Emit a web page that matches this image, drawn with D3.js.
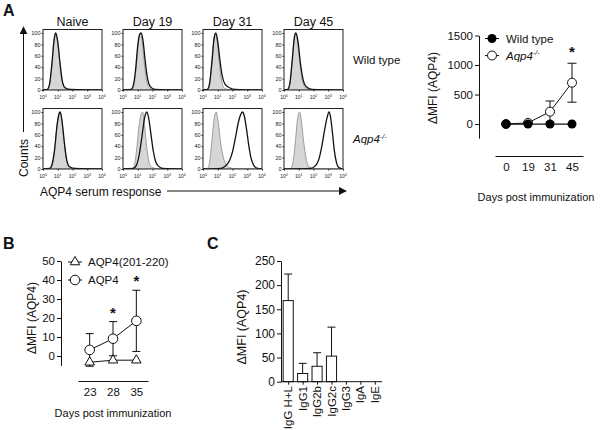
<!DOCTYPE html>
<html><head><meta charset="utf-8">
<script src="https://cdn.jsdelivr.net/npm/d3@7"></script>
<style>body{margin:0;background:#fff}svg{font-family:Arial,"Liberation Sans",sans-serif}</style>
</head><body><svg id="c" width="602" height="430"></svg>
<script>
// ---------------- DATA ----------------
// Panel A histograms: [log10 intensity, % of max]
const histColumns = ["Naive", "Day 19", "Day 31", "Day 45"];
const histRowLabels = ["Wild type", "Aqp4"];
const histYTicks = [0, 20, 40, 60, 80, 100];
const histXExps = [0, 1, 2, 3, 4];
const wtControl = [
  [[0,0],[0.3,1],[0.45,10],[0.6,42],[0.75,85],[0.87,100],[1.0,82],[1.15,45],[1.3,15],[1.5,3],[1.8,0.5],[4,0]],
  [[0,0],[0.6,1],[0.75,10],[0.9,40],[1.05,85],[1.18,100],[1.3,85],[1.45,45],[1.6,15],[1.8,3],[2.1,0.5],[4,0]],
  [[0,0],[0.3,1],[0.45,12],[0.6,48],[0.75,90],[0.85,100],[0.98,80],[1.12,42],[1.28,14],[1.45,3],[1.8,0.5],[4,0]],
  [[0,0],[0.25,1],[0.4,12],[0.55,48],[0.7,90],[0.8,100],[0.93,82],[1.08,45],[1.25,15],[1.45,4],[1.8,0.5],[4,0]]
];
const wtSerum = [
  [[0,0],[0.3,1],[0.45,11],[0.6,45],[0.75,88],[0.85,100],[1.0,85],[1.15,48],[1.3,17],[1.5,4],[1.9,1],[4,0]],
  [[0,0],[0.55,1],[0.7,8],[0.85,35],[1.0,78],[1.12,97],[1.22,100],[1.35,88],[1.5,52],[1.65,22],[1.85,6],[2.2,1],[4,0]],
  [[0,0],[0.3,1],[0.45,12],[0.6,48],[0.75,90],[0.87,100],[1.0,85],[1.15,52],[1.3,25],[1.5,10],[1.8,4],[2.2,1],[4,0]],
  [[0,0],[0.25,1],[0.4,12],[0.55,50],[0.7,92],[0.8,100],[0.95,85],[1.1,50],[1.28,20],[1.5,6],[1.9,1],[4,0]]
];
const koControl = [
  [[0,0],[0.5,1],[0.65,8],[0.8,35],[0.95,75],[1.08,97],[1.15,100],[1.28,85],[1.42,50],[1.58,18],[1.78,4],[2.1,0.5],[4,0]],
  [[0,0],[0.65,1],[0.8,10],[0.95,40],[1.1,78],[1.25,98],[1.33,100],[1.45,78],[1.6,40],[1.75,14],[1.95,3],[2.3,0.5],[4,0]],
  [[0,0],[0.3,1],[0.45,12],[0.6,48],[0.78,92],[0.9,100],[1.03,82],[1.2,45],[1.4,18],[1.6,7],[1.85,2],[2.2,0.5],[4,0]],
  [[0,0],[0.45,1],[0.6,10],[0.75,42],[0.92,88],[1.05,100],[1.18,84],[1.33,48],[1.5,18],[1.7,4],[2.0,0.5],[4,0]]
];
const koSerum = [
  [[0,0],[0.45,1],[0.6,7],[0.78,33],[0.95,76],[1.1,98],[1.17,100],[1.3,82],[1.45,46],[1.6,17],[1.8,4],[2.2,1],[4,0]],
  [[0,0],[0.7,1],[0.9,6],[1.1,25],[1.3,60],[1.45,88],[1.55,98],[1.62,100],[1.75,88],[1.9,60],[2.05,32],[2.2,14],[2.4,5],[2.7,1],[4,0]],
  [[0,0],[1.2,1],[1.5,5],[1.8,15],[2.0,30],[2.2,55],[2.4,82],[2.55,95],[2.68,100],[2.8,93],[2.95,70],[3.1,42],[3.25,20],[3.45,6],[3.7,1],[4,0]],
  [[0,0],[1.8,1],[2.1,5],[2.35,16],[2.55,38],[2.75,68],[2.92,90],[3.05,100],[3.15,92],[3.28,65],[3.4,35],[3.55,12],[3.7,3],[4,0]]
];

// Panel A right: ΔMFI over time
const aDays = ["0", "19", "31", "45"];
const aWT = [0, 0, 0, 0];
const aKO = [0, 20, 210, 700];
const aKOErr = [5, 15, 180, 330];
const aYTicks = [0, 500, 1000, 1500];
const aSig = ["", "", "", "*"];

// Panel B
const bDays = ["23", "28", "35"];
const bPeptide = [-3.3, -2.2, -2.2];
const bAQP4 = [3.2, 9.1, 18.5];
const bAQP4Err = [8.6, 9, 16.1];
const bYTicks = [0, 10, 20, 30, 40, 50];
const bSig = ["", "*", "*"];

// Panel C
const cIsotypes = ["IgG H+L", "IgG1", "IgG2b", "IgG2c", "IgG3", "IgA", "IgE"];
const cMean = [168, 17, 32, 53, 0, 0, 0];
const cErr = [55, 21, 28, 60, 0, 0, 0];
const cYTicks = [0, 50, 100, 150, 200, 250];

// ---------------- DRAW ----------------
const svg = d3.select("#c");
const txt = (x, y, s, size, opts = {}) => {
  const t = svg.append("text").attr("x", x).attr("y", y).attr("font-size", size)
    .attr("fill", "#111").text(s);
  if (opts.anchor) t.attr("text-anchor", opts.anchor);
  if (opts.bold) t.attr("font-weight", "bold");
  if (opts.italic) t.attr("font-style", "italic");
  return t;
};
const koLabel = (sel, size) => {
  sel.append("tspan").attr("font-style", "italic").text("Aqp4");
  sel.append("tspan").attr("font-style", "italic").attr("font-size", size * 0.62)
    .attr("dy", -size * 0.38).text("-/-");
};

// Panel labels
txt(3, 16, "A", 16, {bold: true});
txt(3, 249, "B", 16, {bold: true});
txt(207, 249, "C", 16, {bold: true});

// ----- Panel A histograms -----
const histX = [43, 123, 203, 284];
const histTop = [29.5, 108.5];
const histW = 59, histH = 60.5;
const controls = [wtControl, koControl];
const sera = [wtSerum, koSerum];

histColumns.forEach((name, c) => {
  txt(histX[c] + histW / 2, 26, name, 12.5, {anchor: "middle"});
});

[0, 1].forEach(r => {
  histColumns.forEach((name, c) => {
    const x0 = histX[c], y0 = histTop[r];
    const xs = d3.scaleLog().domain([1, 1e4]).range([x0, x0 + histW]);
    const ys = d3.scaleLinear().domain([0, 100]).range([y0 + histH, y0 + 3.5]);
    const g = svg.append("g");
    const clipId = `clip${r}${c}`;
    g.append("clipPath").attr("id", clipId).append("rect")
      .attr("x", x0).attr("y", y0).attr("width", histW).attr("height", histH);
    const area = d3.area().x(d => xs(Math.pow(10, d[0]))).y0(ys(0)).y1(d => ys(d[1]))
      .curve(d3.curveMonotoneX);
    const line = d3.line().x(d => xs(Math.pow(10, d[0]))).y(d => ys(d[1]))
      .curve(d3.curveMonotoneX);
    const inner = g.append("g").attr("clip-path", `url(#${clipId})`);
    inner.append("path").attr("d", area(controls[r][c])).attr("fill", "#d6d6d6")
      .attr("stroke", "#9b9b9b").attr("stroke-width", 1);
    inner.append("path").attr("d", line(sera[r][c])).attr("fill", "none")
      .attr("stroke", "#111").attr("stroke-width", 1.3);
    g.append("rect").attr("x", x0).attr("y", y0).attr("width", histW).attr("height", histH)
      .attr("fill", "none").attr("stroke", "#222").attr("stroke-width", 1);
    const ya = g.append("g").attr("transform", `translate(${x0},0)`)
      .call(d3.axisLeft(ys).tickValues(histYTicks).tickSize(1.5).tickPadding(1));
    ya.select(".domain").remove();
    ya.selectAll("text").attr("font-size", 5.5).attr("fill", "#222").attr("font-family", null);
    ya.selectAll("line").attr("stroke", "#222");
    const xa = g.append("g").attr("transform", `translate(0,${y0 + histH})`)
      .call(d3.axisBottom(xs).tickValues(histXExps.map(e => Math.pow(10, e))).tickSize(1.5).tickFormat(""));
    xa.select(".domain").remove();
    xa.selectAll("line").attr("stroke", "#222");
    histXExps.forEach(e => {
      const t = g.append("text").attr("x", xs(Math.pow(10, e))).attr("y", y0 + histH + 8.5)
        .attr("font-size", 5).attr("text-anchor", "middle").attr("fill", "#222");
      t.append("tspan").text("10");
      t.append("tspan").attr("font-size", 3.5).attr("dy", -2).text(e);
    });
  });
});
txt(353, 64, histRowLabels[0], 11.5);
koLabel(txt(353, 143, "", 11.5), 11.5);

// arrows
const defs = svg.append("defs");
defs.append("marker").attr("id", "arr").attr("viewBox", "0 0 10 10").attr("refX", 9).attr("refY", 5)
  .attr("markerWidth", 8).attr("markerHeight", 8).attr("markerUnits", "userSpaceOnUse")
  .attr("orient", "auto").append("path").attr("d", "M0,0L10,5L0,10Z").attr("fill", "#111");
svg.append("line").attr("x1", 23.5).attr("y1", 132).attr("x2", 23.5).attr("y2", 27)
  .attr("stroke", "#111").attr("stroke-width", 1).attr("marker-end", "url(#arr)");
svg.append("text").attr("transform", "translate(28,158) rotate(-90)").attr("text-anchor", "middle")
  .attr("font-size", 12).attr("fill", "#111").text("Counts");
txt(40, 196, "AQP4 serum response", 12);
svg.append("line").attr("x1", 167).attr("y1", 191).attr("x2", 346).attr("y2", 191)
  .attr("stroke", "#111").attr("stroke-width", 1).attr("marker-end", "url(#arr)");

// ----- helpers -----
function styleAxis(a, size) {
  a.selectAll("text").attr("font-size", size).attr("fill", "#111").attr("font-family", null);
  a.selectAll("line,path").attr("stroke", "#111").attr("stroke-width", 1);
}
function errBar(x, ys, v, e, cap, dirs) {
  const g = svg.append("g").attr("stroke", "#111").attr("stroke-width", 1);
  dirs.forEach(d => {
    const yEnd = ys(v + d * e);
    g.append("line").attr("x1", x).attr("x2", x).attr("y1", ys(v)).attr("y2", yEnd);
    g.append("line").attr("x1", x - cap / 2).attr("x2", x + cap / 2).attr("y1", yEnd).attr("y2", yEnd);
  });
}

// ----- Panel A right -----
{
  const ys = d3.scaleLinear().domain([-240, 1500]).range([138.2, 35.5]);
  const xs = d3.scalePoint().domain(aDays).range([495, 583]).padding(0.5);
  const ya = svg.append("g").attr("transform", "translate(479,0)")
    .call(d3.axisLeft(ys).tickValues(aYTicks).tickFormat(d3.format("d")).tickSize(4).tickPadding(2).tickSizeOuter(0));
  styleAxis(ya, 11.5);
  const xa = svg.append("g").attr("transform", "translate(0,156)")
    .call(d3.axisBottom(xs).tickSize(0).tickPadding(7).tickSizeOuter(0));
  styleAxis(xa, 11.5);
  svg.append("text").attr("transform", `translate(437,88) rotate(-90)`).attr("text-anchor", "middle")
    .attr("font-size", 12).attr("fill", "#111").text("ΔMFI (AQP4)");
  txt(536, 201, "Days post immunization", 11, {anchor: "middle"});
  aDays.forEach((d, i) => errBar(xs(d), ys, aKO[i], aKOErr[i], 9, [1, -1]));
  const line = d3.line().x((d, i) => xs(aDays[i])).y(d => ys(d));
  svg.append("path").attr("d", line(aKO)).attr("fill", "none").attr("stroke", "#111").attr("stroke-width", 1);
  svg.append("path").attr("d", line(aWT)).attr("fill", "none").attr("stroke", "#111").attr("stroke-width", 1.2);
  aKO.forEach((v, i) => svg.append("circle").attr("cx", xs(aDays[i])).attr("cy", ys(v)).attr("r", 4.5)
    .attr("fill", "#fff").attr("stroke", "#111").attr("stroke-width", 1));
  aWT.forEach((v, i) => svg.append("circle").attr("cx", xs(aDays[i])).attr("cy", ys(v)).attr("r", 4.5).attr("fill", "#000"));
  aSig.forEach((s, i) => { if (s) txt(xs(aDays[i]), 57, s, 15, {anchor: "middle", bold: true}); });
  // legend
  svg.append("line").attr("x1", 485).attr("x2", 499).attr("y1", 38.5).attr("y2", 38.5).attr("stroke", "#111");
  svg.append("circle").attr("cx", 492).attr("cy", 38.5).attr("r", 4.5).attr("fill", "#000");
  txt(506, 42.5, "Wild type", 11.5);
  svg.append("line").attr("x1", 485).attr("x2", 499).attr("y1", 55.5).attr("y2", 55.5).attr("stroke", "#111");
  svg.append("circle").attr("cx", 492).attr("cy", 55.5).attr("r", 4.5).attr("fill", "#fff").attr("stroke", "#111");
  koLabel(txt(506, 59.5, "", 11.5), 11.5);
}

// ----- Panel B -----
{
  const ys = d3.scaleLinear().domain([-5, 50]).range([365.5, 261]);
  const xs = d3.scalePoint().domain(bDays).range([78, 148]).padding(0.5);
  const ya = svg.append("g").attr("transform", "translate(61,0)")
    .call(d3.axisLeft(ys).tickValues(bYTicks).tickSize(4).tickPadding(2).tickSizeOuter(0));
  styleAxis(ya, 11.5);
  const xa = svg.append("g").attr("transform", "translate(0,381)")
    .call(d3.axisBottom(xs).tickSize(0).tickPadding(7).tickSizeOuter(0));
  styleAxis(xa, 11.5);
  svg.append("text").attr("transform", `translate(36,318) rotate(-90)`).attr("text-anchor", "middle")
    .attr("font-size", 12).attr("fill", "#111").text("ΔMFI (AQP4)");
  txt(113, 417, "Days post immunization", 11, {anchor: "middle"});
  bDays.forEach((d, i) => errBar(xs(d), ys, bAQP4[i], bAQP4Err[i], 8, [1, -1]));
  const line = d3.line().x((d, i) => xs(bDays[i])).y(d => ys(d));
  svg.append("path").attr("d", line(bPeptide)).attr("fill", "none").attr("stroke", "#111");
  svg.append("path").attr("d", line(bAQP4)).attr("fill", "none").attr("stroke", "#111");
  const tri = d3.symbol().type(d3.symbolTriangle).size(40);
  bPeptide.forEach((v, i) => svg.append("path").attr("d", tri())
    .attr("transform", `translate(${xs(bDays[i])},${ys(v)})`).attr("fill", "#fff").attr("stroke", "#111"));
  bAQP4.forEach((v, i) => svg.append("circle").attr("cx", xs(bDays[i])).attr("cy", ys(v)).attr("r", 4.8)
    .attr("fill", "#fff").attr("stroke", "#111"));
  bSig.forEach((s, i) => {
    if (s) txt(xs(bDays[i]), ys(bAQP4[i] + bAQP4Err[i]) - 4, s, 15, {anchor: "middle", bold: true});
  });
  svg.append("line").attr("x1", 68).attr("x2", 82).attr("y1", 262).attr("y2", 262).attr("stroke", "#111");
  svg.append("path").attr("d", tri()).attr("transform", "translate(75,262)").attr("fill", "#fff").attr("stroke", "#111");
  txt(88, 266, "AQP4(201-220)", 11.5);
  svg.append("line").attr("x1", 68).attr("x2", 82).attr("y1", 280).attr("y2", 280).attr("stroke", "#111");
  svg.append("circle").attr("cx", 75).attr("cy", 280).attr("r", 4.8).attr("fill", "#fff").attr("stroke", "#111");
  txt(88, 284, "AQP4", 11.5);
}

// ----- Panel C -----
{
  const ys = d3.scaleLinear().domain([0, 250]).range([381.7, 261]);
  const xs = d3.scalePoint().domain(cIsotypes).range([281, 382]).padding(0.5);
  const bw = xs.step() * 0.7;
  cIsotypes.forEach((k, i) => {
    if (cErr[i] > 0) errBar(xs(k), ys, cMean[i], cErr[i], 8, [1]);
    svg.append("rect").attr("x", xs(k) - bw / 2).attr("y", ys(cMean[i]))
      .attr("width", bw).attr("height", ys(0) - ys(cMean[i]))
      .attr("fill", "#fff").attr("stroke", "#111").attr("stroke-width", 1);
  });
  const ya = svg.append("g").attr("transform", "translate(281,0)")
    .call(d3.axisLeft(ys).tickValues(cYTicks).tickSize(4).tickPadding(2).tickSizeOuter(0));
  styleAxis(ya, 12);
  const xa = svg.append("g").attr("transform", "translate(0,381.7)")
    .call(d3.axisBottom(xs).tickSize(3).tickFormat("").tickSizeOuter(0));
  styleAxis(xa, 11.5);
  xa.select(".domain").attr("d", "M281,0H382");
  cIsotypes.forEach(k => {
    svg.append("text").attr("transform", `translate(${xs(k) + 4},386) rotate(-90)`)
      .attr("text-anchor", "end").attr("font-size", 11.5).attr("fill", "#111").text(k);
  });
  svg.append("text").attr("transform", `translate(246,327) rotate(-90)`).attr("text-anchor", "middle")
    .attr("font-size", 12.5).attr("fill", "#111").text("ΔMFI (AQP4)");
}
</script></body></html>
